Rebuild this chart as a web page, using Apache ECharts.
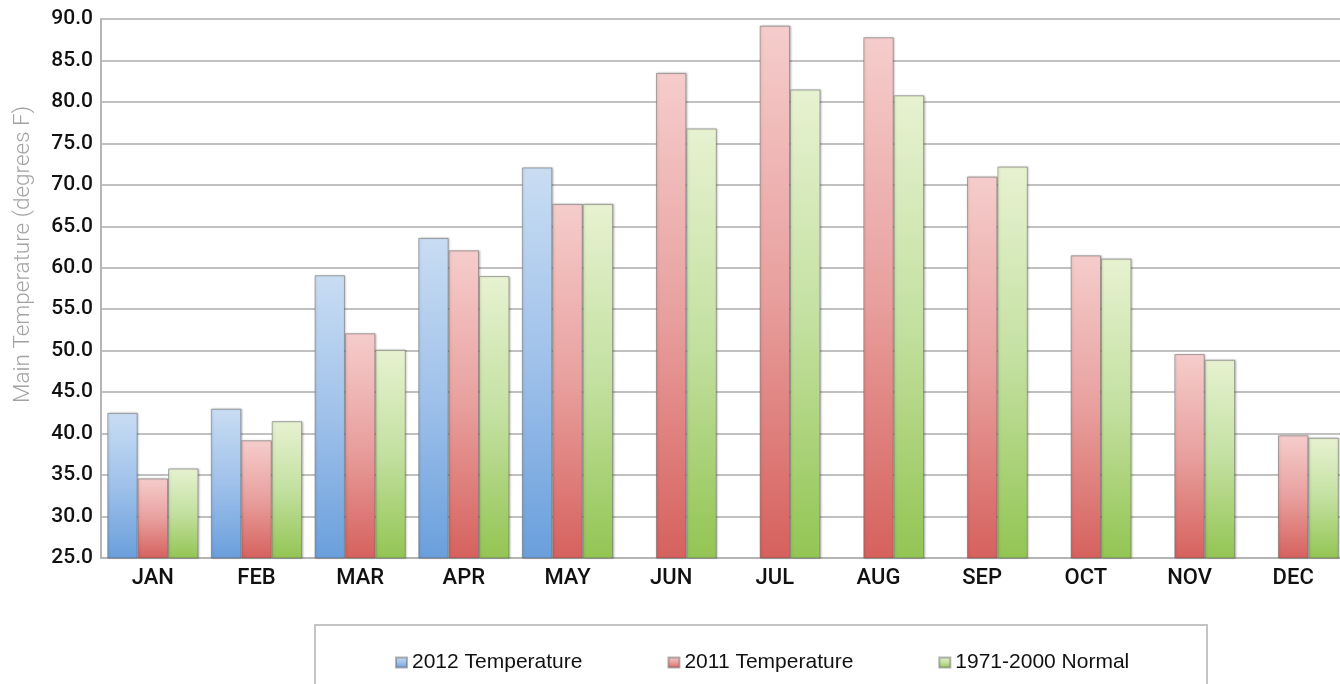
<!DOCTYPE html>
<html>
<head>
<meta charset="utf-8">
<script src="https://cdn.jsdelivr.net/npm/echarts@6/dist/echarts.min.js"></script>
<style>
html,body{margin:0;padding:0;background:#fff;}
#c{width:1340px;height:684px;}
</style>
</head>
<body>
<div id="c"></div>
<script>
const months = ['JAN','FEB','MAR','APR','MAY','JUN','JUL','AUG','SEP','OCT','NOV','DEC'];
const temp2012 = [42.5, 43.0, 59.1, 63.6, 72.1, null, null, null, null, null, null, null];
const temp2011 = [34.6, 39.2, 52.1, 62.1, 67.7, 83.5, 89.2, 87.8, 71.0, 61.5, 49.6, 39.8];
const normal = [35.8, 41.5, 50.1, 59.0, 67.7, 76.8, 81.5, 80.8, 72.2, 61.1, 48.9, 39.5];
const seriesNames = ['2012 Temperature', '2011 Temperature', '1971-2000 Normal'];
const yMin = 25, yMax = 90, yStep = 5;
const yTitle = 'Main Temperature (degrees F)';

const chart = echarts.init(document.getElementById('c'));

function grad(top, mid, bottom) {
  return new echarts.graphic.LinearGradient(0, 0, 0, 1, [
    {offset: 0, color: top},
    {offset: 0.5, color: mid},
    {offset: 1, color: bottom}
  ]);
}
const fills = [
  grad('#c9ddf3', '#9fc1ea', '#6a9fdc'),
  grad('#f5cdcc', '#e8a09e', '#d6615d'),
  grad('#e7f2d1', '#c3e0a0', '#93c553')
];

const series = [temp2012, temp2011, normal].map((d, i) => ({
  name: seriesNames[i],
  type: 'bar',
  data: d,
  barGap: '0%',
  barCategoryGap: '12%',
  itemStyle: {
    color: fills[i],
    borderColor: 'rgba(90,90,90,0.45)',
    borderWidth: 1,
    shadowColor: 'rgba(0,0,0,0.25)',
    shadowBlur: 2,
    shadowOffsetX: 1
  }
}));

chart.setOption({
  animation: false,
  backgroundColor: '#ffffff',
  grid: {left: 101, right: -5, top: 19, bottom: 126, containLabel: false, outerBoundsMode: 'none'},
  legend: {
    data: seriesNames,
    left: 390,
    top: 647,
    itemGap: 85,
    itemWidth: 11,
    itemHeight: 10,
    icon: 'rect',
    textStyle: {fontFamily: 'Liberation Sans', fontSize: 21, color: '#111'}
  },
  graphic: [{
    type: 'rect',
    shape: {x: 315, y: 625, width: 892, height: 80},
    style: {fill: 'none', stroke: '#c4c4c4', lineWidth: 2},
    silent: true
  }],
  xAxis: {
    type: 'category',
    data: months,
    axisLine: {lineStyle: {color: '#b5b5b5', width: 2}},
    axisTick: {show: false},
    axisLabel: {fontFamily: 'Roboto', fontSize: 22, fontWeight: 500, color: '#111', margin: 9}
  },
  yAxis: {
    type: 'value',
    min: yMin, max: yMax, interval: yStep,
    name: yTitle,
    nameLocation: 'middle',
    nameGap: 66,
    nameRotate: 90,
    nameTextStyle: {fontFamily: 'Roboto', fontSize: 22.5, color: '#a3a3a3', fontWeight: 300, padding: [0, 0, 0, 68]},
    axisLine: {show: true, lineStyle: {color: '#b5b5b5', width: 2}},
    axisTick: {show: false},
    splitLine: {lineStyle: {color: '#acacac', width: 1.5}},
    axisLabel: {
      fontFamily: 'Roboto', fontSize: 21, fontWeight: 500, color: '#111', margin: 8,
      formatter: v => v.toFixed(1)
    }
  },
  series: series
});
</script>
</body>
</html>
